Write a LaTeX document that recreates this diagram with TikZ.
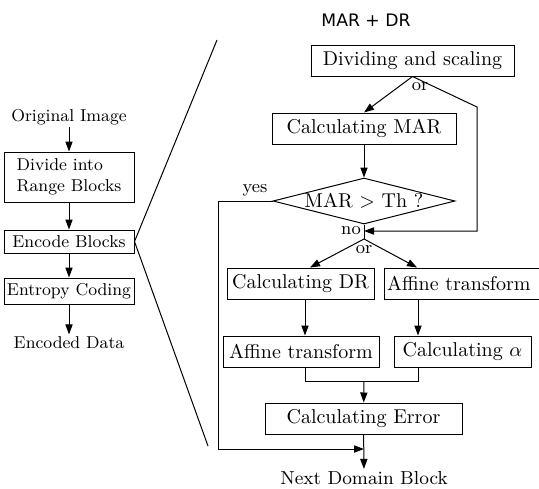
\documentclass[tikz,border=0pt]{standalone}
\usepackage{fontspec}
\newfontfamily\titlefont{DejaVu Sans}
\usepackage{tikz}
\usetikzlibrary{arrows.meta,shapes.geometric}

\begin{document}
\begin{tikzpicture}[x=0.5pt,y=-0.5pt, line width=0.5pt,
    blk/.style={draw, inner sep=1pt, minimum height=15.5pt, align=center,
                font=\fontsize{10}{12}\selectfont},
    lblk/.style={draw, inner sep=1pt, minimum width=65pt, align=center,
                font=\fontsize{8.6}{10.5}\selectfont},
    txt/.style={inner sep=1pt, font=\fontsize{8.6}{10.5}\selectfont},
    lbl/.style={inner sep=0.5pt, font=\fontsize{9}{10}\selectfont},
    dec/.style={draw, diamond, aspect=4, inner sep=0pt, minimum width=91pt,
                minimum height=23pt, font=\fontsize{10}{12}\selectfont},
    arr/.style={-{Triangle[length=5pt,width=3.6pt]}}
  ]
  \useasboundingbox (0,0) rectangle (539,488);

  % left column
  \node[txt] (orig) at (69,117) {Original Image};
  \node[lblk, minimum height=25pt, align=left] (divide) at (69,177) {Divide into\\Range Blocks};
  \node[lblk, minimum height=11.5pt] (encode) at (69,241.5) {Encode Blocks};
  \node[lblk, minimum height=13pt] (entropy) at (69,291) {Entropy Coding};
  \node[txt] (data) at (69,343) {Encoded Data};

  \draw[arr] (orig) -- (divide);
  \draw[arr] (divide) -- (encode);
  \draw[arr] (encode) -- (entropy);
  \draw[arr] (entropy) -- (data);

  % zoom lines
  \coordinate (zt) at (217,40);
  \coordinate (zb) at (208,446);
  \draw (encode.east) -- (zt);
  \draw (encode.east) -- (zb);

  % right part
  \node[font=\titlefont\fontsize{8.6}{10}\selectfont] (title) at (366,20) {MAR + DR};
  \node[blk, minimum width=101.5pt] (divscale) at (412.5,60.5) {Dividing and scaling};
  \node[blk, minimum width=92pt] (calcmar) at (364,128.5) {Calculating MAR};
  \node[dec] (mar) at (364,201) {MAR > Th ?};
  \node[blk, minimum width=73.5pt] (calcdr) at (300.5,283.5) {Calculating DR};
  \node[blk, text width=80pt, align=left, inner xsep=1.5pt] (affr) at (467,283.5) {Affine transform};
  \node[blk, minimum width=78pt] (affl) at (301,351.5) {Affine transform};
  \node[blk, minimum width=68.5pt] (alpha) at (462.5,351.5) {Calculating $\alpha$};
  \node[blk, minimum width=98.5pt] (err) at (363.5,418.5) {Calculating Error};
  \node[inner sep=1pt, font=\fontsize{9.4}{11}\selectfont] (next) at (364,478) {Next Domain Block};

  \coordinate (rt) at (477,107);
  \coordinate (noin) at (364,231);
  \coordinate (split) at (364,239);
  \coordinate (mrg) at (364,381);
  \coordinate (ycorner) at (218,449);
  \coordinate (join) at (364,449);

  \draw[arr] (divscale.south) -- (calcmar.north);
  \draw[arr] (divscale.south) -- (rt) |- (noin);
  \draw[arr] (calcmar) -- (mar);
  \draw (mar.south) -- (split);
  \draw[arr] (split) -- ([xshift=4.75pt]calcdr.north);
  \draw[arr] (split) -- ([xshift=-25pt]affr.north);
  \draw[arr] ([xshift=2.25pt]calcdr.south) -- ([xshift=2pt]affl.north);
  \draw[arr] ([xshift=-24.5pt]affr.south) -- ([xshift=-22.25pt]alpha.north);
  \draw ([xshift=2pt]affl.south) |- (mrg) -| ([xshift=-22.25pt]alpha.south);
  \draw[arr] (mrg) -- (err);
  \draw[arr] (mar.west) -| (ycorner) -- (join);
  \draw[arr] (err) -- (next);

  \node[lbl] at (420,87) {or};
  \node[lbl] at (364,250) {or};
  \node[lbl] at (351,231) {no};
  \node[lbl] at (255,190) {yes};
\end{tikzpicture}
\end{document}
